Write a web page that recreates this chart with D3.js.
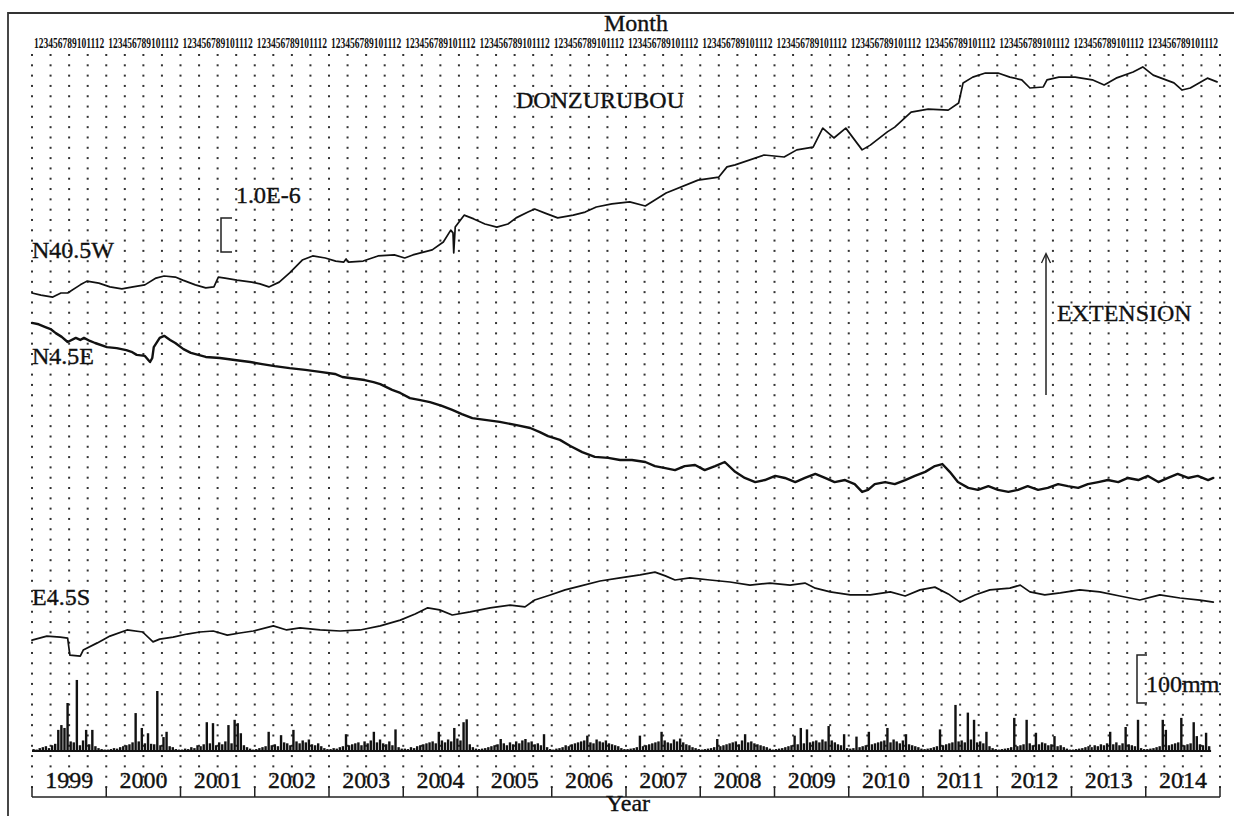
<!DOCTYPE html>
<meta charset="utf-8">
<head>
<style>
  body { margin: 0; background: #fff; }
  svg text { font-family: "Liberation Serif", "Times New Roman", serif; fill: #111; }
  .lbl { font-size: 24px; stroke: #111; stroke-width: 0.35px; }
  .mon { font-size: 15px; font-weight: bold; }
  .trace { fill: none; stroke: #111; stroke-linejoin: round; stroke-linecap: round; }
</style>
<script src="https://d3js.org/d3.v7.min.js"></script>
</head>
<body>
<svg width="1234" height="816"></svg>
<script>
// ---- data (strain in 1.0E-6, rain in mm) ----
var years = d3.range(1999, 2015);
var months = [1, 2, 3, 4, 5, 6, 7, 8, 9, 10, 11, 12];

var n405w = [[1999.00,13.47],[1999.12,13.41],[1999.28,13.35],[1999.39,13.47],[1999.48,13.47],[1999.65,13.71],[1999.74,13.82],[1999.90,13.76],[2000.05,13.65],[2000.21,13.59],[2000.36,13.65],[2000.52,13.71],[2000.67,13.91],[2000.78,13.97],[2000.93,13.94],[2001.03,13.85],[2001.20,13.71],[2001.34,13.62],[2001.45,13.65],[2001.51,13.94],[2001.60,13.91],[2001.76,13.85],[2001.96,13.79],[2002.07,13.74],[2002.19,13.65],[2002.33,13.79],[2002.47,14.06],[2002.64,14.44],[2002.78,14.56],[2002.95,14.50],[2003.09,14.41],[2003.20,14.38],[2003.23,14.47],[2003.26,14.38],[2003.46,14.41],[2003.66,14.56],[2003.88,14.59],[2004.02,14.50],[2004.13,14.59],[2004.39,14.74],[2004.54,14.97],[2004.64,15.32],[2004.67,15.24],[2004.68,14.65],[2004.70,15.41],[2004.82,15.76],[2004.95,15.65],[2005.10,15.50],[2005.26,15.41],[2005.41,15.50],[2005.52,15.68],[2005.68,15.85],[2005.77,15.94],[2005.91,15.82],[2006.08,15.68],[2006.29,15.76],[2006.45,15.85],[2006.60,16.00],[2006.81,16.09],[2007.05,16.15],[2007.26,16.03],[2007.54,16.41],[2007.97,16.79],[2008.25,16.88],[2008.36,17.18],[2008.47,17.24],[2008.86,17.53],[2009.13,17.47],[2009.30,17.68],[2009.52,17.76],[2009.65,18.32],[2009.80,18.03],[2009.96,18.32],[2010.18,17.68],[2010.29,17.82],[2010.52,18.21],[2010.62,18.35],[2010.84,18.79],[2011.07,18.88],[2011.34,18.85],[2011.48,19.06],[2011.54,19.65],[2011.67,19.82],[2011.84,19.94],[2012.01,19.94],[2012.17,19.82],[2012.33,19.74],[2012.44,19.50],[2012.62,19.53],[2012.67,19.74],[2012.83,19.82],[2013.05,19.82],[2013.28,19.74],[2013.44,19.59],[2013.60,19.79],[2013.83,19.97],[2013.96,20.12],[2014.10,19.88],[2014.38,19.65],[2014.49,19.44],[2014.60,19.50],[2014.83,19.79],[2014.96,19.68]];

var n45e = [[1999.00,12.59],[1999.09,12.55],[1999.18,12.47],[1999.25,12.41],[1999.32,12.29],[1999.40,12.18],[1999.48,12.03],[1999.59,12.15],[1999.65,12.09],[1999.70,12.15],[1999.78,12.06],[1999.85,12.00],[2000.01,11.88],[2000.14,11.85],[2000.27,11.79],[2000.34,11.74],[2000.41,11.65],[2000.52,11.62],[2000.59,11.44],[2000.62,11.56],[2000.64,11.88],[2000.72,12.15],[2000.78,12.21],[2000.86,12.09],[2000.93,12.00],[2001.04,11.82],[2001.14,11.71],[2001.24,11.65],[2001.34,11.59],[2001.53,11.56],[2001.63,11.53],[2001.73,11.50],[2001.94,11.44],[2002.10,11.38],[2002.27,11.32],[2002.47,11.26],[2002.68,11.21],[2002.88,11.15],[2003.08,11.09],[2003.18,11.00],[2003.28,10.97],[2003.48,10.91],[2003.60,10.85],[2003.69,10.79],[2003.85,10.62],[2003.96,10.53],[2004.09,10.38],[2004.23,10.32],[2004.36,10.26],[2004.52,10.15],[2004.66,10.03],[2004.79,9.91],[2004.93,9.79],[2005.10,9.74],[2005.30,9.68],[2005.51,9.59],[2005.71,9.50],[2005.84,9.38],[2005.95,9.26],[2006.11,9.15],[2006.25,8.97],[2006.41,8.79],[2006.58,8.65],[2006.76,8.62],[2006.92,8.56],[2007.08,8.56],[2007.26,8.50],[2007.39,8.38],[2007.53,8.32],[2007.66,8.26],[2007.79,8.38],[2007.93,8.41],[2008.06,8.26],[2008.20,8.38],[2008.33,8.50],[2008.47,8.21],[2008.60,8.03],[2008.74,7.91],[2008.87,7.97],[2009.01,8.09],[2009.14,8.03],[2009.28,7.91],[2009.41,8.03],[2009.55,8.15],[2009.68,8.03],[2009.81,7.91],[2009.95,7.97],[2010.08,7.85],[2010.18,7.62],[2010.26,7.68],[2010.35,7.85],[2010.49,7.91],[2010.62,7.85],[2010.76,7.97],[2010.89,8.09],[2011.03,8.21],[2011.16,8.38],[2011.26,8.44],[2011.36,8.21],[2011.47,7.91],[2011.61,7.74],[2011.74,7.68],[2011.88,7.79],[2012.01,7.68],[2012.15,7.62],[2012.28,7.68],[2012.41,7.79],[2012.55,7.68],[2012.68,7.74],[2012.82,7.85],[2012.95,7.79],[2013.09,7.74],[2013.22,7.85],[2013.36,7.91],[2013.49,7.97],[2013.63,7.91],[2013.76,8.03],[2013.90,7.97],[2014.03,8.09],[2014.17,7.91],[2014.30,8.03],[2014.43,8.15],[2014.57,8.03],[2014.70,8.09],[2014.84,7.97],[2014.91,8.03]];

var e45s = [[1999.00,3.26],[1999.20,3.38],[1999.38,3.35],[1999.48,3.32],[1999.51,2.82],[1999.65,2.79],[1999.69,2.97],[1999.88,3.18],[2000.05,3.38],[2000.28,3.56],[2000.49,3.50],[2000.63,3.21],[2000.72,3.29],[2000.90,3.35],[2001.09,3.44],[2001.26,3.50],[2001.44,3.53],[2001.63,3.41],[2001.80,3.47],[2001.98,3.53],[2002.25,3.68],[2002.43,3.56],[2002.61,3.62],[2002.88,3.56],[2003.15,3.53],[2003.42,3.56],[2003.69,3.68],[2003.96,3.85],[2004.16,4.03],[2004.33,4.21],[2004.49,4.15],[2004.66,4.00],[2004.90,4.09],[2005.17,4.21],[2005.44,4.29],[2005.64,4.24],[2005.77,4.44],[2005.98,4.59],[2006.18,4.74],[2006.38,4.85],[2006.65,5.00],[2006.92,5.09],[2007.19,5.18],[2007.39,5.26],[2007.53,5.15],[2007.66,5.03],[2007.86,5.09],[2008.13,5.03],[2008.40,4.97],[2008.67,4.88],[2008.94,4.94],[2009.21,4.88],[2009.41,4.94],[2009.55,4.79],[2009.75,4.68],[2010.02,4.59],[2010.29,4.59],[2010.56,4.68],[2010.76,4.56],[2010.96,4.74],[2011.16,4.82],[2011.34,4.62],[2011.50,4.38],[2011.70,4.59],[2011.90,4.74],[2012.17,4.79],[2012.31,4.88],[2012.44,4.68],[2012.64,4.59],[2012.85,4.65],[2013.11,4.74],[2013.38,4.68],[2013.65,4.56],[2013.92,4.44],[2014.19,4.59],[2014.46,4.50],[2014.73,4.44],[2014.91,4.38]];

// half-monthly rainfall (mm), one row per year 1999..2014
var rain = [
  [4,3,6,8,10,6,12,15,44,54,48,100,20,18,148,12,22,44,14,44,10,6,4,3],
  [3,4,6,5,8,10,12,14,18,79,20,48,16,37,15,14,125,12,29,40,10,8,4,3],
  [3,5,4,8,6,12,10,14,60,16,58,12,18,14,20,54,16,65,58,37,12,8,5,3],
  [4,6,8,10,40,12,14,10,33,18,16,12,44,20,16,22,18,24,14,12,16,10,6,4],
  [4,6,5,8,10,35,12,14,16,18,12,20,16,22,40,18,24,16,14,20,12,45,8,5],
  [5,4,8,6,10,12,14,16,18,20,16,40,22,18,24,20,48,26,22,60,66,14,8,5],
  [4,5,6,8,10,12,14,25,16,12,18,14,20,16,22,25,18,20,14,16,12,35,8,4],
  [3,5,6,8,12,10,14,16,18,20,22,32,18,16,24,20,18,22,16,14,12,10,6,4],
  [4,5,6,8,32,10,12,14,16,18,20,40,22,18,16,24,20,26,18,14,12,8,6,4],
  [3,4,5,6,8,25,10,12,14,16,18,20,14,22,35,18,20,16,14,12,10,8,5,3],
  [4,5,6,8,10,12,32,14,48,16,45,18,20,22,18,24,20,52,22,18,14,12,35,6],
  [5,6,30,8,10,12,40,14,16,18,20,22,48,18,24,20,16,22,35,14,12,10,8,5],
  [4,5,6,8,10,45,12,14,16,18,96,20,22,18,80,24,65,18,20,16,40,10,6,4],
  [3,4,5,6,8,69,10,12,14,65,16,12,38,14,18,16,12,14,31,10,12,8,5,3],
  [3,4,5,6,8,10,8,12,10,14,12,16,40,14,18,12,16,50,14,12,10,65,6,4],
  [4,5,6,8,10,65,44,12,14,16,18,69,12,14,16,60,31,14,12,38,10,0,0,0]
];

var traces = [
  {name: "N40.5W", data: n405w, width: 1.7},
  {name: "N4.5E",  data: n45e,  width: 2.4},
  {name: "E4.5S",  data: e45s,  width: 1.7}
];

// ---- layout ----
var svg = d3.select("svg");
var x = d3.scaleLinear().domain([1999, 2015]).range([32, 1220]);
var y = d3.scaleLinear().domain([0, 20]).range([751, 71]);     // 1.0E-6 = 34 px
var rainH = d3.scaleLinear().domain([0, 100]).range([0, 48]);  // 100 mm = 48 px
var rainBase = 751;

// frame (open to right/bottom, as in the scan)
svg.append("path")
    .attr("d", "M1240,13H8V820")
    .attr("fill", "none")
    .attr("stroke", "#333")
    .attr("stroke-width", 1.8);

// dotted grid: one column per quarter, rows every ~10 px
var quarters = d3.range(0, 65).map(function(q) { return 1999 + q / 4; });
var rows = d3.range(0, 72).map(function(i) { return 55 + i * 10.31; });
var dots = [];
quarters.forEach(function(q) { rows.forEach(function(r) { dots.push([q, r]); }); });
svg.append("g").selectAll("rect")
    .data(dots)
    .enter().append("rect")
    .attr("x", function(d) { return x(d[0]) - 1; })
    .attr("y", function(d) { return d[1] - 1; })
    .attr("width", 2)
    .attr("height", 2)
    .attr("fill", "#333");

// month labels along the top: one squeezed run of 1..12 per year
var mon = svg.append("g").selectAll("text")
    .data(years)
    .enter().append("text")
    .attr("class", "mon")
    .text(months.join(""));
mon.attr("transform", function(d) {
  var w = this.getComputedTextLength();
  var target = x(d + 1) - x(d) - 4;
  return "translate(" + (x(d) + 2) + ",48) scale(" + (target / w) + ",1)";
});

svg.append("text").attr("class", "lbl")
    .attr("x", 636).attr("y", 31).attr("text-anchor", "middle")
    .text("Month");

// year axis at the bottom
var yg = svg.append("g");
yg.append("line")
    .attr("x1", x(1999)).attr("x2", x(2015))
    .attr("y1", 797).attr("y2", 797)
    .attr("stroke", "#222").attr("stroke-width", 1.5);
yg.selectAll("line.tick")
    .data(d3.range(1999, 2016))
    .enter().append("line")
    .attr("class", "tick")
    .attr("x1", function(d) { return x(d); }).attr("x2", function(d) { return x(d); })
    .attr("y1", 787).attr("y2", 797)
    .attr("stroke", "#222").attr("stroke-width", 1.5);
yg.selectAll("text")
    .data(years)
    .enter().append("text")
    .attr("class", "lbl")
    .attr("x", function(d) { return x(d + 0.5); })
    .attr("y", 788)
    .attr("text-anchor", "middle")
    .text(function(d) { return d; });
svg.append("text").attr("class", "lbl")
    .attr("x", 628).attr("y", 811).attr("text-anchor", "middle")
    .text("Year");

// strain traces
var line = d3.line()
    .x(function(d) { return x(d[0]); })
    .y(function(d) { return y(d[1]); });
svg.append("g").selectAll("path")
    .data(traces)
    .enter().append("path")
    .attr("class", "trace")
    .attr("stroke-width", function(d) { return d.width; })
    .attr("d", function(d) { return line(d.data); });

// rainfall bars
var bars = [];
rain.forEach(function(row, i) {
  row.forEach(function(v, k) { if (v > 0) bars.push([years[i] + (k + 0.5) / 24, v]); });
});
svg.append("g").selectAll("rect")
    .data(bars)
    .enter().append("rect")
    .attr("x", function(d) { return x(d[0]) - 1.2; })
    .attr("y", function(d) { return rainBase - rainH(d[1]); })
    .attr("width", 2.4)
    .attr("height", function(d) { return rainH(d[1]); })
    .attr("fill", "#111");
svg.append("line")
    .attr("x1", x(1999)).attr("x2", x(2014.88))
    .attr("y1", rainBase).attr("y2", rainBase)
    .attr("stroke", "#111").attr("stroke-width", 1.8);

// labels
var labels = [
  {t: "N40.5W", x: 32, y: 258, a: "start"},
  {t: "N4.5E", x: 32, y: 364, a: "start"},
  {t: "E4.5S", x: 32, y: 605, a: "start"},
  {t: "1.0E-6", x: 236, y: 203, a: "start"},
  {t: "DONZURUBOU", x: 600, y: 108, a: "middle"},
  {t: "EXTENSION", x: 1057, y: 321, a: "start"},
  {t: "100mm", x: 1146, y: 692, a: "start"}
];
svg.append("g").selectAll("text")
    .data(labels)
    .enter().append("text")
    .attr("class", "lbl")
    .attr("x", function(d) { return d.x; })
    .attr("y", function(d) { return d.y; })
    .attr("text-anchor", function(d) { return d.a; })
    .text(function(d) { return d.t; });

// scale brackets
var sTop = y(15.68), sBot = y(14.68);
svg.append("path")
    .attr("d", "M232," + sTop + "H221V" + sBot + "H232")
    .attr("fill", "none").attr("stroke", "#222").attr("stroke-width", 1.5);
var rTop = 655;
svg.append("path")
    .attr("d", "M1147," + rTop + "H1137V" + (rTop + rainH(100)) + "H1147")
    .attr("fill", "none").attr("stroke", "#222").attr("stroke-width", 1.5);

// extension arrow
svg.append("line")
    .attr("x1", 1046).attr("x2", 1046).attr("y1", 395).attr("y2", 254)
    .attr("stroke", "#222").attr("stroke-width", 1.5);
svg.append("path")
    .attr("d", "M1041.5,263L1046,253.5L1050.5,263")
    .attr("fill", "none").attr("stroke", "#222").attr("stroke-width", 1.3);
</script>
</body>
